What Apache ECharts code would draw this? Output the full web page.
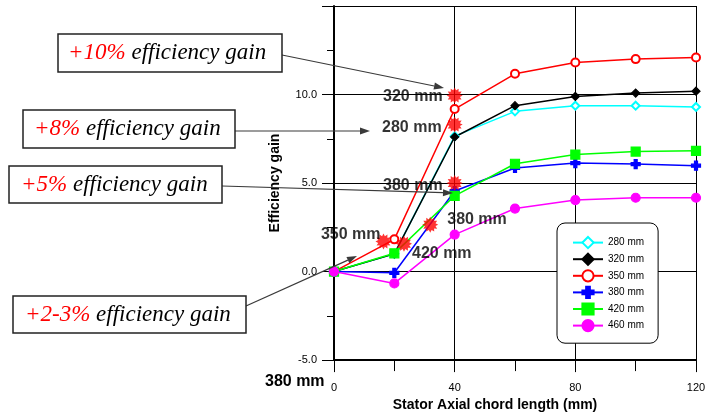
<!DOCTYPE html>
<html>
<head>
<meta charset="utf-8">
<script src="https://cdn.jsdelivr.net/npm/echarts@6/dist/echarts.min.js"></script>
<style>
  html, body { margin: 0; padding: 0; background: #fff; }
  #chart { width: 717px; height: 417px; }
</style>
</head>
<body>
<div id="chart"></div>
<script>
// Stator axial chord length (mm) and efficiency gain per stator configuration
const chordLength = [0, 20, 40, 60, 80, 100, 120];
const gain280 = [0, 1.0, 7.65, 9.05, 9.37, 9.37, 9.3];
const gain320 = [0, 1.0, 7.6, 9.37, 9.89, 10.08, 10.19];
const gain350 = [0, 1.82, 9.18, 11.17, 11.81, 12.0, 12.09];
const gain380 = [0, -0.07, 4.55, 5.85, 6.13, 6.07, 5.98];
const gain420 = [0, 1.03, 4.28, 6.09, 6.61, 6.78, 6.82];
const gain460 = [0, -0.67, 2.09, 3.56, 4.04, 4.17, 4.17];
const seriesNames = ['280 mm', '320 mm', '350 mm', '380 mm', '420 mm', '460 mm'];

// Highlighted design points (chord length, gain) and their tags
const highlightX = [40, 40, 40, 31.9, 16.4, 23.2];
const highlightY = [9.94, 8.3, 5.0, 2.65, 1.7, 1.57];
const highlightTags = ['320 mm', '280 mm', '380 mm', '380 mm', '350 mm', '420 mm'];

// Callout boxes
const calloutGain = ['+10%', '+8%', '+5%', '+2-3%'];
const calloutText = 'efficiency gain';

const yTicks = [-5, 0, 5, 10, 15];

const chart = echarts.init(document.getElementById('chart'), null, { renderer: 'canvas' });

function pairs(ys) { return chordLength.map((x, i) => [x, ys[i]]); }

// spiky burst symbol for the highlighted points
function burstPath(n, inner) {
  let d = '';
  for (let i = 0; i < n * 2; i++) {
    const r = i % 2 === 0 ? 10 : 10 * inner;
    const a = Math.PI * i / n - Math.PI / 2;
    const x = (10 + r * Math.cos(a)).toFixed(2);
    const y = (10 + r * Math.sin(a)).toFixed(2);
    d += (i === 0 ? 'M' : 'L') + x + ',' + y;
  }
  return 'path://' + d + 'Z';
}
const burst = burstPath(12, 0.68);
const plus = 'path://M3,0H6V3H9V6H6V9H3V6H0V3H3Z';

const tagLayout = [
  { align: 'right', offset: [-12, 1] },
  { align: 'right', offset: [-13, 3] },
  { align: 'right', offset: [-12, 3] },
  { align: 'left', offset: [17, -5] },
  { align: 'right', offset: [-3, -7] },
  { align: 'left', offset: [8, 10] }
];

const lineDefs = [
  { data: gain280, color: '#00ffff', symbol: 'emptyDiamond', size: 8 },
  { data: gain320, color: '#000000', symbol: 'diamond', size: 8 },
  { data: gain350, color: '#ff0000', symbol: 'emptyCircle', size: 8 },
  { data: gain380, color: '#0000ff', symbol: plus, size: 9 },
  { data: gain420, color: '#00ff00', symbol: 'rect', size: 9 },
  { data: gain460, color: '#ff00ff', symbol: 'circle', size: 9 }
];

const series = lineDefs.map((d, i) => ({
  name: seriesNames[i],
  type: 'line',
  data: pairs(d.data),
  symbol: d.symbol,
  symbolSize: d.size,
  showAllSymbol: true,
  lineStyle: { color: d.color, width: 1.5 },
  itemStyle: { color: d.color, borderColor: d.color, borderWidth: 1.2 },
  emphasis: { disabled: true },
  z: 3
}));

series.push({
  name: 'highlight',
  type: 'scatter',
  symbol: burst,
  symbolSize: 16,
  itemStyle: { color: '#ff0000' },
  z: 5,
  data: highlightX.map((x, i) => ({
    value: [x, highlightY[i]],
    label: {
      show: true,
      formatter: highlightTags[i],
      position: 'inside',
      align: tagLayout[i].align,
      verticalAlign: 'middle',
      offset: tagLayout[i].offset,
      color: '#000',
      fontFamily: 'Liberation Sans, Arial, sans-serif',
      fontWeight: 'bold',
      fontSize: 16
    }
  }))
});

// callout boxes and arrows
const boxes = [
  { x: 58, y: 34, w: 224, h: 38, tx: 68 },
  { x: 23, y: 110, w: 212, h: 38, tx: 34 },
  { x: 9, y: 166, w: 213, h: 37, tx: 21 },
  { x: 13, y: 296, w: 233, h: 37, tx: 25 }
];
const arrows = [
  [282, 55, 444, 88],
  [235, 131, 370, 131],
  [222, 186, 453, 193],
  [246, 306, 357, 256]
];

const calloutFont = 'italic 23px "Liberation Serif", "Times New Roman", serif';
const graphic = [];
arrows.forEach(([x1, y1, x2, y2]) => {
  const a = Math.atan2(y2 - y1, x2 - x1), L = 10, W = 3.5;
  const bx = x2 - L * Math.cos(a), by = y2 - L * Math.sin(a);
  graphic.push({ type: 'line', z: 20, shape: { x1, y1, x2: bx, y2: by }, style: { stroke: '#3a3a3a', lineWidth: 1.2 } });
  graphic.push({ type: 'polygon', z: 20, shape: { points: [[x2, y2], [bx + W * Math.sin(a), by - W * Math.cos(a)], [bx - W * Math.sin(a), by + W * Math.cos(a)]] }, style: { fill: '#3a3a3a' } });
});
boxes.forEach((b, i) => {
  graphic.push({ type: 'rect', z: 21, shape: { x: b.x, y: b.y, width: b.w, height: b.h }, style: { fill: '#fff', stroke: '#222', lineWidth: 1.5 } });
  graphic.push({
    type: 'text', z: 22, x: b.tx, y: b.y + b.h / 2,
    style: {
      text: '{g|' + calloutGain[i] + '} {t|' + calloutText + '}',
      verticalAlign: 'middle',
      font: calloutFont,
      rich: {
        g: { fill: '#ff0000', font: calloutFont },
        t: { fill: '#000', font: calloutFont }
      }
    }
  });
});
graphic.push({
  type: 'text', z: 22, x: 265, y: 382,
  style: { text: '380 mm', verticalAlign: 'middle', font: 'bold 16px "Liberation Sans", Arial, sans-serif', fill: '#000' }
});

const axisFont = { fontFamily: 'Liberation Sans, Arial, sans-serif', fontSize: 11, color: '#000' };

chart.setOption({
  animation: false,
  backgroundColor: '#fff',
  grid: { left: 334, right: 21, top: 6, bottom: 53, containLabel: false },
  legend: {
    data: seriesNames,
    orient: 'vertical',
    left: 557,
    top: 223,
    padding: [13, 14, 11, 15],
    itemWidth: 30,
    itemHeight: 14,
    itemGap: 3.4,
    backgroundColor: '#fff',
    borderColor: '#000',
    borderWidth: 1,
    borderRadius: 8,
    z: 10,
    textStyle: { fontFamily: 'Liberation Sans, Arial, sans-serif', fontSize: 10, color: '#000' }
  },
  xAxis: {
    type: 'value',
    min: 0,
    max: 120,
    interval: 40,
    name: 'Stator Axial chord length (mm)',
    nameLocation: 'middle',
    nameGap: 34,
    nameTextStyle: { fontFamily: 'Liberation Sans, Arial, sans-serif', fontWeight: 'bold', fontSize: 14, color: '#000', padding: [0, 40, 0, 0] },
    axisLine: { onZero: false, lineStyle: { color: '#000', width: 2 } },
    axisTick: { length: 12, lineStyle: { color: '#000' } },
    minorTick: { show: true, splitNumber: 2, length: 11, lineStyle: { color: '#000' } },
    splitLine: { show: true, lineStyle: { color: '#000', width: 1 } },
    axisLabel: Object.assign({ margin: 22 }, axisFont)
  },
  yAxis: {
    type: 'value',
    min: yTicks[0],
    max: yTicks[yTicks.length - 1],
    interval: 5,
    name: 'Efficiency gain',
    nameLocation: 'middle',
    nameRotate: 90,
    nameGap: 52,
    nameTextStyle: { fontFamily: 'Liberation Sans, Arial, sans-serif', fontWeight: 'bold', fontSize: 14, color: '#000' },
    axisLine: { onZero: false, lineStyle: { color: '#000', width: 2 } },
    axisTick: { length: 12, lineStyle: { color: '#000' } },
    minorTick: { show: true, splitNumber: 2, length: 7, lineStyle: { color: '#000' } },
    splitLine: { show: true, lineStyle: { color: '#000', width: 1 } },
    axisLabel: Object.assign({ margin: 17, formatter: v => (v === yTicks[yTicks.length - 1] ? '' : v.toFixed(1)) }, axisFont)
  },
  series,
  graphic
});
</script>
</body>
</html>
